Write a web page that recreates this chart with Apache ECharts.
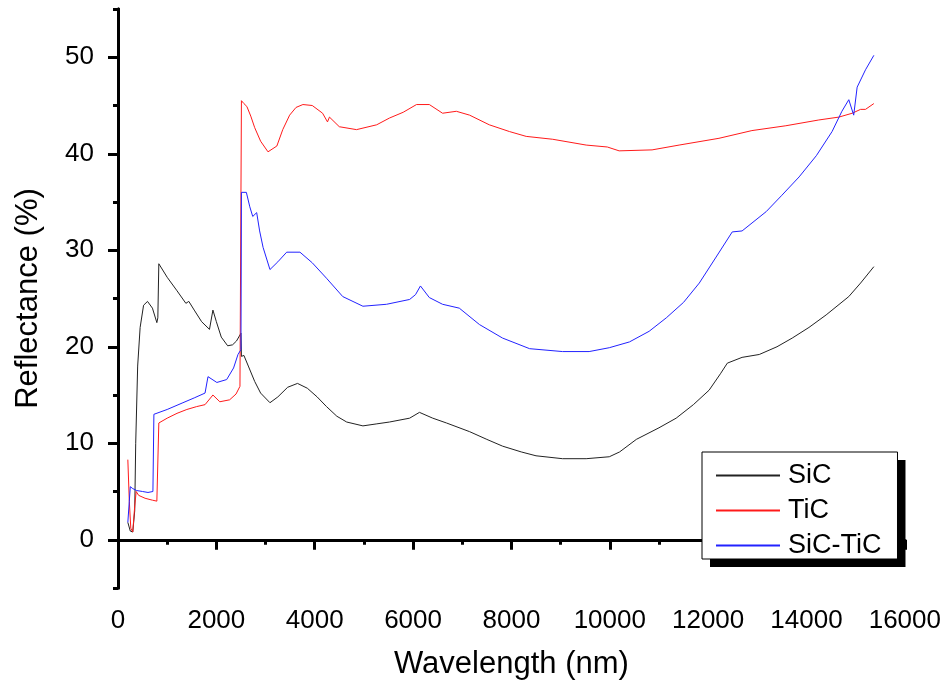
<!DOCTYPE html>
<html>
<head>
<meta charset="utf-8">
<script src="https://cdn.jsdelivr.net/npm/echarts@6/dist/echarts.min.js"></script>
<style>html,body{margin:0;padding:0;background:#fff;}#c{width:944px;height:689px;}</style>
</head>
<body>
<div id="c"></div>
<script>
const seriesNames = ['SiC', 'TiC', 'SiC-TiC'];
const yMajorTicks = [0, 10, 20, 30, 40, 50];
const yMinorTicks = [-5, 5, 15, 25, 35, 45, 55];

const sicX = [200,250,300,340,360,400,450,520,600,700,790,810,830,1000,1200,1380,1440,1550,1700,1860,1930,2000,2100,2230,2330,2410,2500,2510,2560,2650,2780,2900,3090,3250,3450,3650,3850,4050,4240,4450,4650,4980,5250,5520,5930,6130,6400,6680,7150,7500,7820,8200,8500,9040,9520,9990,10200,10540,11000,11350,11700,12020,12250,12390,12690,13040,13400,13710,14050,14400,14860,15100,15370];
const sicY = [1.8,0.9,0.8,3,10,18,22,24.3,24.7,24,22.5,23,28.6,27.2,25.8,24.5,24.7,23.8,22.6,21.8,23.8,22.6,21,20.1,20.2,20.6,21.4,19.0,19.1,18,16.4,15.2,14.2,14.8,15.8,16.2,15.7,14.8,13.8,12.8,12.2,11.8,12,12.2,12.6,13.2,12.6,12.1,11.2,10.4,9.7,9.1,8.7,8.4,8.4,8.6,9.1,10.4,11.6,12.6,14,15.5,17.2,18.3,18.9,19.2,20,20.9,22,23.3,25.2,26.6,28.3];

const ticX = [200,230,260,300,340,370,420,550,700,790,820,830,1000,1200,1400,1600,1770,1930,2070,2270,2400,2480,2500,2510,2560,2620,2700,2780,2900,3050,3230,3350,3490,3620,3760,3950,4160,4260,4300,4500,4850,5260,5520,5800,6070,6330,6600,6880,7150,7550,7960,8300,8840,9520,9950,10190,10860,11410,12220,12890,13580,14250,14660,14930,15100,15200,15370];
const ticY = [8.3,4,1.2,0.8,3.5,5.0,4.6,4.3,4.1,4.0,4.0,12.1,12.6,13.1,13.5,13.8,14.0,15.0,14.3,14.5,15.1,15.9,16.0,45.5,45.2,44.9,43.9,42.7,41.3,40.2,40.8,42.5,44.0,44.8,45.1,45.0,44.2,43.3,43.8,42.8,42.5,43.0,43.7,44.3,45.1,45.1,44.2,44.4,44.0,43.0,42.3,41.8,41.5,40.9,40.7,40.3,40.4,40.9,41.6,42.4,42.9,43.5,43.8,44.2,44.6,44.6,45.2];

const mixX = [200,230,250,300,380,500,610,650,710,720,730,1000,1320,1550,1770,1830,2010,2210,2350,2440,2500,2510,2610,2680,2740,2820,2880,2950,3090,3250,3430,3700,3950,4240,4570,4980,5460,5930,6050,6150,6330,6600,6940,7350,7820,8370,9040,9580,9990,10400,10800,11150,11500,11820,12150,12490,12690,13180,13500,13850,14200,14520,14720,14860,14960,15030,15200,15370];
const mixY = [1.8,4,5.5,5.3,5.1,5.0,4.9,4.7,5.0,5.0,13.0,13.5,14.2,14.7,15.2,16.9,16.3,16.6,17.8,19.2,19.7,36.0,36.0,34.5,33.5,33.9,32,30.3,28.0,28.8,29.8,29.8,28.7,27.1,25.2,24.2,24.4,24.9,25.4,26.3,25.1,24.4,24.0,22.3,20.9,19.8,19.5,19.5,19.9,20.5,21.6,23.0,24.6,26.6,29.2,31.9,32.0,34.0,35.7,37.6,39.8,42.3,44.4,45.6,44.0,46.9,48.7,50.2];

function pairs(xs, ys) { return xs.map((x, i) => [x, ys[i]]); }

const FONT = '"Liberation Sans", Arial, sans-serif';
const legendBase = {
  orient: 'vertical',
  left: 702, top: 452,
  padding: [10, 16, 0, 14],
  itemGap: 8,
  itemWidth: 64, itemHeight: 2,
  icon: 'rect',
  data: seriesNames
};
const chart = echarts.init(document.getElementById('c'), null, {renderer: 'canvas'});
chart.setOption({
  animation: false,
  backgroundColor: '#fff',
  grid: {left: 118, right: 38, top: 9, bottom: 101, containLabel: false},
  legend: [
    Object.assign({}, legendBase, {
      z: 5,
      backgroundColor: '#fff', borderWidth: 0,
      shadowColor: '#000', shadowBlur: 0, shadowOffsetX: 8, shadowOffsetY: 8,
      itemStyle: {opacity: 0},
      textStyle: {fontFamily: FONT, fontSize: 27, color: 'rgba(0,0,0,0)', lineHeight: 27, padding: [0,0,0,3]}
    }),
    Object.assign({}, legendBase, {
      z: 6,
      backgroundColor: 'transparent', borderColor: '#000', borderWidth: 1,
      textStyle: {fontFamily: FONT, fontSize: 27, color: '#000', lineHeight: 27, padding: [0,0,0,3]}
    })
  ],
  xAxis: {
    type: 'value', min: 0, max: 16000, interval: 2000,
    name: 'Wavelength (nm)', nameLocation: 'middle', nameGap: 61,
    nameTextStyle: {fontFamily: FONT, fontSize: 31, color: '#000'},
    axisLine: {show: true, lineStyle: {color: '#000', width: 3}},
    axisTick: {show: true, length: 10, lineStyle: {color: '#000', width: 3}},
    minorTick: {show: true, splitNumber: 2, length: 5, lineStyle: {color: '#000', width: 3}},
    axisLabel: {fontFamily: FONT, fontSize: 26, color: '#000', margin: 20, formatter: v => String(v)},
    splitLine: {show: false}, minorSplitLine: {show: false}
  },
  yAxis: [{
    type: 'value', min: -5, max: 55,
    name: 'Reflectance (%)', nameLocation: 'middle', nameGap: 74,
    nameTextStyle: {fontFamily: FONT, fontSize: 31, color: '#000'},
    axisLine: {show: true, lineStyle: {color: '#000', width: 3}},
    axisTick: {show: true, length: 10, customValues: yMajorTicks, lineStyle: {color: '#000', width: 3}},
    axisLabel: {fontFamily: FONT, fontSize: 26, color: '#000', margin: 24, customValues: yMajorTicks, formatter: v => String(v)},
    splitLine: {show: false}
  }, {
    type: 'value', min: -5, max: 55, position: 'left', offset: 0,
    axisLine: {show: true, lineStyle: {color: '#000', width: 3}},
    axisTick: {show: true, length: 5, customValues: yMinorTicks, lineStyle: {color: '#000', width: 3}},
    axisLabel: {show: false, customValues: yMinorTicks},
    splitLine: {show: false}
  }],
  series: [
    {name: seriesNames[0], type: 'line', symbol: 'none', data: pairs(sicX, sicY), lineStyle: {color: '#222', width: 1}, itemStyle: {color: '#222'}},
    {name: seriesNames[1], type: 'line', symbol: 'none', data: pairs(ticX, ticY), lineStyle: {color: '#ff1a1a', width: 1}, itemStyle: {color: '#ff1a1a'}},
    {name: seriesNames[2], type: 'line', symbol: 'none', data: pairs(mixX, mixY), lineStyle: {color: '#2222ff', width: 1}, itemStyle: {color: '#2222ff'}}
  ]
});
</script>
</body>
</html>
